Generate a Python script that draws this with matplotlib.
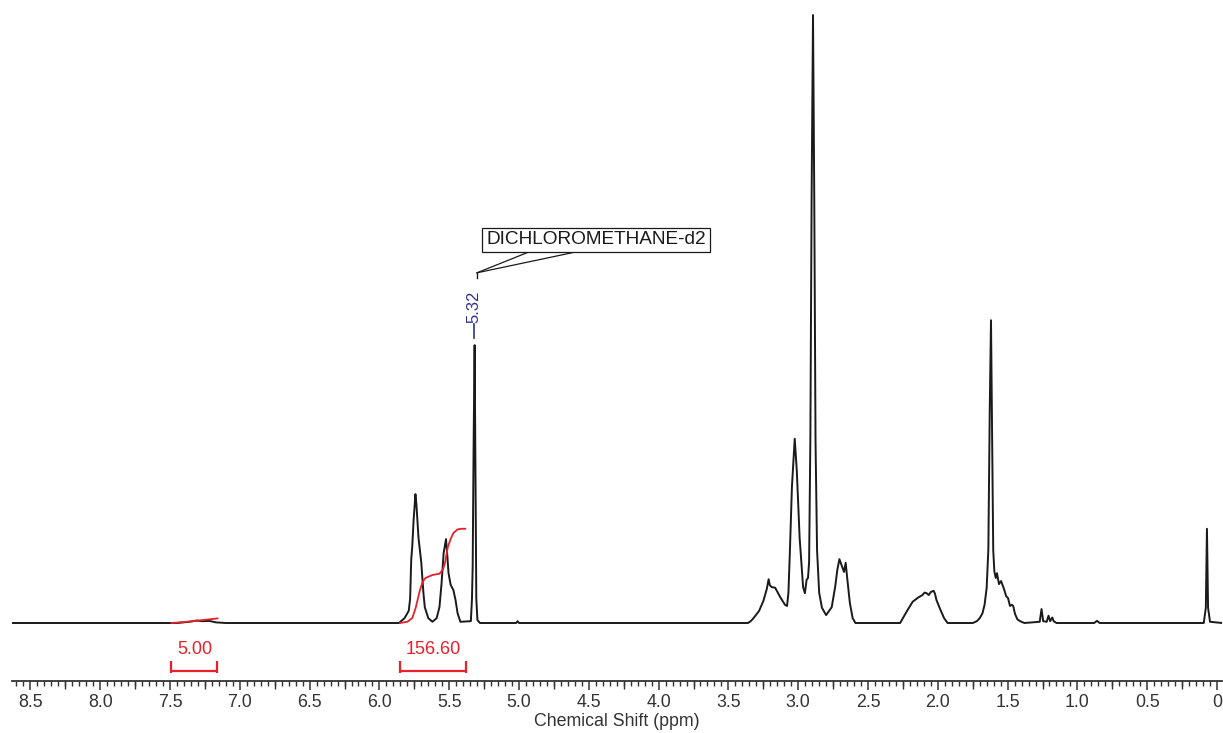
import matplotlib
matplotlib.use("Agg")
import matplotlib.pyplot as plt
from matplotlib.ticker import MultipleLocator, FixedLocator

plt.rcParams['font.family'] = ['Liberation Sans', 'DejaVu Sans']

# ---------------- data ----------------
ppm = [8.63, 7.45, 7.36, 7.31, 7.27, 7.22, 7.17, 7.10,
       5.86, 5.82, 5.79, 5.78, 5.772, 5.765, 5.755, 5.742, 5.735, 5.72, 5.70, 5.685, 5.675, 5.65, 5.62,
       5.59, 5.57, 5.555, 5.54, 5.523, 5.515, 5.505, 5.49, 5.47, 5.455, 5.44, 5.42,
       5.345, 5.337, 5.332, 5.325, 5.318, 5.312, 5.306, 5.298, 5.28, 5.02, 5.01, 5.00,
       3.36, 3.34, 3.32, 3.28, 3.25, 3.225, 3.212, 3.203, 3.19, 3.165, 3.13, 3.095, 3.08,
       3.07, 3.06, 3.045, 3.025, 3.01, 2.99, 2.965, 2.952, 2.94, 2.93,
       2.922, 2.913, 2.904, 2.894, 2.885, 2.876, 2.865, 2.85, 2.83, 2.80,
       2.76, 2.735, 2.72, 2.705, 2.685, 2.672, 2.66, 2.65, 2.63, 2.61, 2.59,
       2.27, 2.25, 2.22, 2.18, 2.14, 2.11, 2.095, 2.08, 2.065, 2.05, 2.03, 2.02, 2.01, 1.98, 1.955, 1.93,
       1.75, 1.72, 1.70, 1.68, 1.665, 1.65, 1.638, 1.628, 1.619, 1.611, 1.603, 1.595, 1.585, 1.576,
       1.562, 1.547, 1.526, 1.51, 1.497, 1.483, 1.47, 1.46, 1.447, 1.43, 1.41, 1.38,
       1.27, 1.257, 1.245, 1.22, 1.207, 1.195, 1.18, 1.17, 1.15,
       0.88, 0.86, 0.84, 0.095, 0.08, 0.072, 0.064, 0.05, -0.036]
intensity = [0, 0, 0.2, 0.4, 0.3, 0.35, 0.1, 0,
             0, 0.8, 2.0, 4.0, 10.5, 12.5, 17.0, 21.2, 19.5, 14.0, 9.9, 5.0, 2.6, 0.8, 0.2,
             0.8, 2.6, 6.5, 11.5, 13.8, 11.5, 8.2, 6.3, 5.4, 3.8, 1.6, 0.2,
             0.3, 4.0, 9.2, 30.0, 45.7, 25.0, 4.0, 0.5, 0, 0, 0.3, 0,
             0, 0.3, 0.8, 2.0, 3.6, 5.6, 7.2, 6.2, 5.9, 5.8, 4.3, 3.0, 2.8,
             5.0, 11.5, 22.4, 30.3, 25.0, 14.1, 5.9, 4.9, 7.1, 7.4,
             10.0, 30.0, 70.0, 100.0, 70.0, 30.0, 12.0, 5.0, 2.5, 1.3,
             2.6, 6.0, 8.7, 10.5, 9.2, 8.4, 9.9, 7.6, 3.3, 0.8, 0,
             0, 0.8, 2.0, 3.5, 4.2, 4.6, 5.0, 4.9, 4.6, 5.1, 5.3, 4.8, 3.8, 2.1, 0.8, 0,
             0, 0.3, 0.8, 1.6, 3.0, 5.8, 12.0, 35.0, 49.8, 30.0, 12.0, 8.5, 7.4, 8.2,
             6.4, 6.9, 5.6, 4.4, 4.1, 2.8, 3.0, 2.8, 1.5, 0.6, 0.3, 0,
             0.2, 2.3, 0.3, 0.2, 1.2, 0.3, 0.9, 0.3, 0,
             0, 0.35, 0, 0, 2.5, 15.5, 2.5, 0.2, 0]

# integral curves
integral1_ppm = [7.49, 7.40, 7.30, 7.22, 7.16]
integral1_val = [0, 0.15, 0.4, 0.6, 0.75]
integral2_ppm = [5.852, 5.80, 5.765, 5.74, 5.71, 5.69, 5.67, 5.62, 5.57, 5.545, 5.53,
                 5.51, 5.49, 5.47, 5.44, 5.41, 5.385]
integral2_val = [0, 0.2, 0.8, 2.5, 5.4, 6.8, 7.4, 7.9, 8.1, 8.8, 9.9,
                 12.5, 13.8, 14.8, 15.4, 15.5, 15.5]

integral_ranges = [(7.49, 7.16), (5.852, 5.38)]
integral_labels = ["5.00", "156.60"]

peak_label_ppm = 5.32
peak_label_text = "5.32"
solvent_text = "DICHLOROMETHANE-d2"

x_label = "Chemical Shift (ppm)"

# ---------------- figure ----------------
W, H = 1223, 733
fig = plt.figure(figsize=(W / 100, H / 100), dpi=100)
ax = fig.add_axes([12 / W, (H - 681) / H, 1210 / W, 681 / H])
ax.set_xlim(8.632, -0.0358)
ax.set_ylim(-9.54, 102.47)

ax.plot(ppm, intensity, color='#1a1a1a', lw=1.4, solid_joinstyle='round')

red = '#e8202a'
ax.plot(integral1_ppm, integral1_val, color=red, lw=1.3)
ax.plot(integral2_ppm, integral2_val, color=red, lw=1.3)

for (a, b), lab in zip(integral_ranges, integral_labels):
    ax.plot([a, b], [-7.9, -7.9], color=red, lw=1.6, solid_capstyle='butt')
    for xx in (a, b):
        ax.plot([xx, xx], [-6.25, -8.22], color=red, lw=1.6, solid_capstyle='butt')
    ax.text((a + b) / 2, -4.3, lab, color=red, fontsize=13, ha='center', va='center')

# peak label
navy = '#2e3192'
ax.plot([peak_label_ppm, peak_label_ppm], [46.9, 49.2], color=navy, lw=1.2)
ax.text(peak_label_ppm, 49.4, peak_label_text, color=navy, fontsize=12, rotation=90,
        ha='center', va='bottom')

# solvent callout
ax.plot([5.301, 5.301], [56.7, 57.6], color='#1a1a1a', lw=1.0)
ax.plot([5.301, 4.943], [57.6, 60.9], color='#1a1a1a', lw=0.9)
ax.plot([5.301, 4.62], [57.6, 60.9], color='#1a1a1a', lw=0.9)
ax.text(4.448, 63.0, solvent_text, fontsize=13.7, ha='center', va='center', color='#1a1a1a',
        bbox=dict(boxstyle='square,pad=0.2', fc='white', ec='#1a1a1a', lw=0.9))

# axes styling
for s in ('top', 'left', 'right'):
    ax.spines[s].set_visible(False)
ax.spines['bottom'].set_color('#333333')
ax.spines['bottom'].set_linewidth(1.3)
ax.set_yticks([])
ax.xaxis.set_major_locator(MultipleLocator(0.5))
ax.xaxis.set_minor_locator(MultipleLocator(0.05))
ax.xaxis.set_major_formatter(plt.FuncFormatter(lambda v, p: "0" if abs(v) < 1e-9 else f"{v:.1f}"))
ax.tick_params(axis='x', which='major', length=6.5, width=1.1, color='#333333',
               labelsize=12.8, labelcolor='#333333', pad=3)
ax.tick_params(axis='x', which='minor', length=3.6, width=1.0, color='#333333')

sec = ax.secondary_xaxis('bottom')
sec.xaxis.set_major_locator(FixedLocator([8.25, 7.75, 7.25, 6.75, 6.25, 5.75, 5.25, 4.75,
                                          4.25, 3.75, 3.25, 2.75, 2.25, 1.75, 1.25, 0.75, 0.25]))
sec.tick_params(axis='x', length=5.4, width=1.0, color='#333333', labelbottom=False)
sec.spines['bottom'].set_visible(False)

ax.set_xlabel(x_label, fontsize=12.8, color='#333333', labelpad=1)

fig.savefig('out.png', dpi=100)
